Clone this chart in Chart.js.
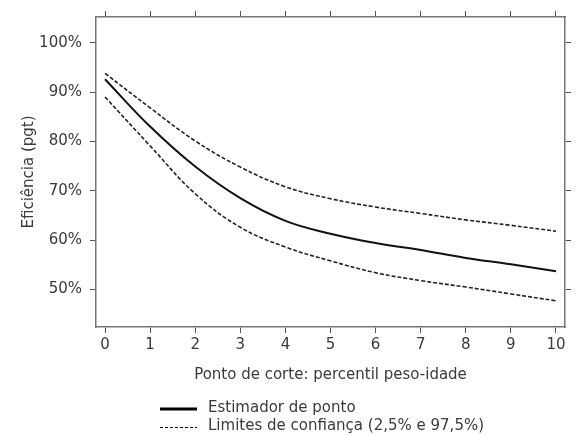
<!DOCTYPE html>
<html>
<head>
<meta charset="utf-8">
<script src="https://cdn.jsdelivr.net/npm/chart.js@4/dist/chart.umd.min.js"></script>
<style>
  html, body { margin: 0; padding: 0; background: #fff; }
  #wrap { width: 578px; height: 435px; }
</style>
</head>
<body>
<div id="wrap"><canvas id="grafico" width="578" height="435"></canvas></div>
<script>
// Dados
const pontosCorte = [0, 1, 2, 3, 4, 5, 6, 7, 8, 9, 10];
const estimador = [92.6, 83.0, 74.9, 68.5, 63.9, 61.3, 59.4, 58.0, 56.4, 55.1, 53.7];
const limiteSuperior = [93.8, 86.8, 80.1, 74.8, 70.8, 68.4, 66.7, 65.4, 64.1, 63.0, 61.8];
const limiteInferior = [89.0, 79.1, 69.4, 62.6, 58.6, 55.8, 53.4, 51.8, 50.5, 49.1, 47.7];
const legendas = ['Estimador de ponto', 'Limites de confiança (2,5% e 97,5%)'];

const fonte = '"DejaVu Sans", "Open Sans", sans-serif';
const tamFonte = 15;
const corTexto = '#3a3a3a';
const corEixo = '#777';

function pares(ys) {
  return pontosCorte.map((x, i) => ({ x: x, y: ys[i] }));
}

// legenda desenhada abaixo do título do eixo x
const legendaPlugin = {
  id: 'legendaManual',
  afterDraw(chart) {
    const c = chart.ctx;
    c.save();
    c.font = tamFonte + 'px ' + fonte;
    c.fillStyle = corTexto;
    c.textBaseline = 'middle';
    c.strokeStyle = '#000';
    // linha cheia
    c.lineWidth = 3;
    c.beginPath(); c.moveTo(160, 409); c.lineTo(197, 409); c.stroke();
    c.fillText(legendas[0], 208, 408);
    // linha tracejada
    c.lineWidth = 1;
    c.setLineDash([3, 2]);
    c.beginPath(); c.moveTo(160, 427.5); c.lineTo(197, 427.5); c.stroke();
    c.setLineDash([]);
    c.fillText(legendas[1], 208, 426);
    c.restore();
  }
};

const gradeTicks = { display: true, drawOnChartArea: false, drawTicks: true, tickLength: 6, color: '#555', lineWidth: 1 };
const borda = { display: true, color: corEixo, width: 1.5 };

new Chart(document.getElementById('grafico'), {
  type: 'line',
  data: {
    datasets: [
      {
        label: legendas[0],
        data: pares(estimador),
        borderColor: '#111',
        borderWidth: 2,
        pointRadius: 0,
        tension: 0.4,
        fill: false
      },
      {
        label: legendas[1],
        data: pares(limiteSuperior),
        borderColor: '#222',
        borderWidth: 1.6,
        borderDash: [4, 2],
        pointRadius: 0,
        tension: 0.4,
        fill: false
      },
      {
        label: legendas[1] + ' inf',
        data: pares(limiteInferior),
        borderColor: '#222',
        borderWidth: 1.6,
        borderDash: [4, 2],
        pointRadius: 0,
        tension: 0.4,
        fill: false
      }
    ]
  },
  options: {
    responsive: false,
    animation: false,
    layout: { padding: { left: 0, right: 0, top: 0, bottom: 48 } },
    plugins: {
      legend: { display: false },
      tooltip: { enabled: false }
    },
    scales: {
      x: {
        type: 'linear',
        position: 'bottom',
        min: -0.2,
        max: 10.2,
        grid: gradeTicks,
        border: borda,
        ticks: { stepSize: 1, includeBounds: false, padding: 3, color: corTexto, font: { family: fonte, size: tamFonte } },
        title: { display: true, text: 'Ponto de corte: percentil peso-idade', color: corTexto, font: { family: fonte, size: tamFonte }, padding: { top: 0, bottom: 3 } },
        afterFit(s) { s.height = 60; }
      },
      x2: {
        type: 'linear',
        position: 'top',
        min: -0.2,
        max: 10.2,
        grid: gradeTicks,
        border: borda,
        ticks: { display: false, stepSize: 1, includeBounds: false },
        afterFit(s) { s.height = 12; }
      },
      y: {
        type: 'linear',
        position: 'left',
        min: 42.4,
        max: 105.2,
        grid: gradeTicks,
        border: borda,
        ticks: { stepSize: 10, includeBounds: false, padding: 8, color: corTexto, font: { family: fonte, size: tamFonte }, callback: v => v + '%' },
        title: { display: true, text: 'Eficiência (pgt)', color: corTexto, font: { family: fonte, size: tamFonte }, padding: { top: 20, bottom: 0 } },
        afterFit(s) { s.width = 96; }
      },
      y2: {
        type: 'linear',
        position: 'right',
        min: 42.4,
        max: 105.2,
        grid: gradeTicks,
        border: borda,
        ticks: { display: false, stepSize: 10, includeBounds: false },
        afterFit(s) { s.width = 13; }
      }
    }
  },
  plugins: [legendaPlugin]
});
</script>
</body>
</html>
